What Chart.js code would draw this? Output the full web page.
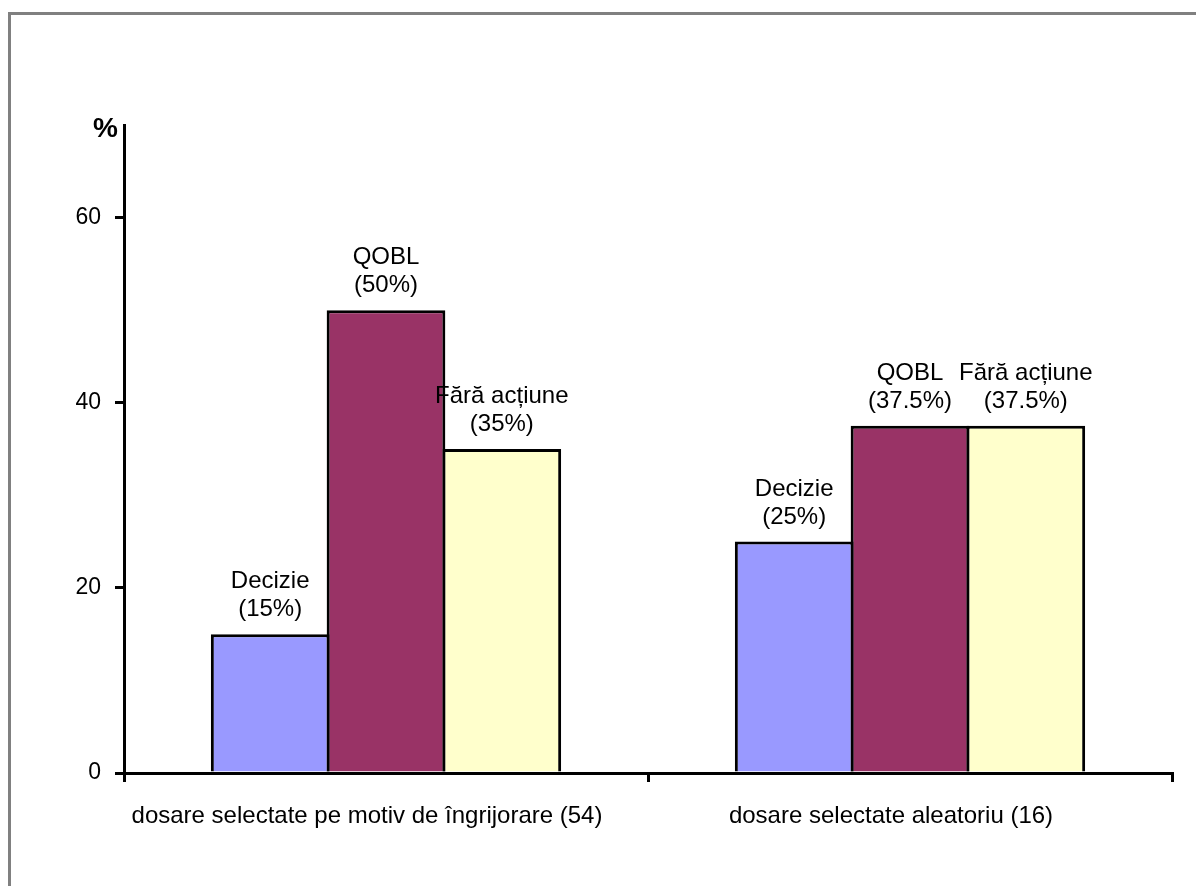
<!DOCTYPE html>
<html>
<head>
<meta charset="utf-8">
<script src="https://cdn.jsdelivr.net/npm/chart.js@4"></script>
<style>
  html, body { margin: 0; padding: 0; background: #ffffff; }
  #wrap { position: relative; width: 1196px; height: 886px; overflow: hidden; }
  #frame {
    position: absolute; left: 8px; top: 12px; width: 1300px; height: 1000px;
    border-left: 3px solid #808080; border-top: 3px solid #808080;
  }
  #chart { position: absolute; left: 0; top: 0; }
</style>
</head>
<body>
<div id="wrap">
  <div id="frame"></div>
  <canvas id="chart" width="1196" height="886"></canvas>
</div>
<script>
"use strict"

const categories = ["dosare selectate pe motiv de îngrijorare (54)", "dosare selectate aleatoriu (16)"];
const seriesNames = ["Decizie", "QOBL", "Fără acțiune"];
const decizie = [15, 25];
const qobl = [50, 37.5];
const faraActiune = [35, 37.5];
const yTicks = [0, 20, 40, 60];
const yMax = 70;
const seriesColors = ["#9999FF", "#993366", "#FFFFCC"];

const FONT = "'Liberation Sans', Arial, sans-serif";

const barLabels = {
    id: "barLabels",
    afterDatasetsDraw(chart) {
        const ctx = chart.ctx;
        ctx.save();
        ctx.fillStyle = "#000000";
        ctx.font = "24px " + FONT;
        ctx.textAlign = "center";
        ctx.textBaseline = "alphabetic";
        chart.data.datasets.forEach((ds, i) => {
            chart.getDatasetMeta(i).data.forEach((bar, j) => {
                ctx.fillText(ds.label, bar.x, bar.y - 46);
                ctx.fillText("(" + ds.data[j] + "%)", bar.x, bar.y - 18);
            });
        });
        ctx.restore();
    },
    afterDraw(chart) {
        const ctx = chart.ctx;
        const area = chart.chartArea;
        ctx.save();
        ctx.fillStyle = "#000000";
        ctx.font = "bold 28px " + FONT;
        ctx.textAlign = "right";
        ctx.textBaseline = "alphabetic";
        ctx.fillText("%", area.left - 6, area.top + 12);
        ctx.restore();
    }
};

const datasets = [decizie, qobl, faraActiune].map((values, i) => ({
    label: seriesNames[i],
    data: values,
    backgroundColor: seriesColors[i],
    borderColor: "#000000",
    borderWidth: 3,
    categoryPercentage: 0.663,
    barPercentage: 1.025
}));

const chart = new Chart(
    document.querySelector("#chart"),
    {
        type: "bar",
        data: {
            labels: categories,
            datasets: datasets
        },
        options: {
            responsive: false,
            devicePixelRatio: 1,
            animation: false,
            layout: {
                padding: { top: 125, right: 24, left: 0, bottom: 0 }
            },
            plugins: {
                legend: { display: false },
                tooltip: { enabled: false }
            },
            scales: {
                x: {
                    z: 1,
                    offset: true,
                    afterFit(scale) { scale.height = 113; },
                    grid: {
                        offset: true,
                        drawOnChartArea: false,
                        color: "#000000",
                        lineWidth: 3,
                        tickLength: 9
                    },
                    border: { display: true, color: "#000000", width: 3 },
                    ticks: {
                        color: "#000000",
                        font: { family: FONT, size: 24 },
                        padding: 20,
                        labelOffset: -19,
                        maxRotation: 0,
                        autoSkip: false
                    }
                },
                y: {
                    z: 1,
                    min: 0,
                    max: yMax,
                    afterFit(scale) { scale.width = 124; },
                    afterBuildTicks(scale) {
                        scale.ticks = yTicks.map(v => ({ value: v }));
                    },
                    grid: {
                        drawOnChartArea: false,
                        color: "#000000",
                        lineWidth: 3,
                        tickLength: 9
                    },
                    border: { display: true, color: "#000000", width: 3 },
                    ticks: {
                        color: "#000000",
                        font: { family: FONT, size: 23 },
                        padding: 14
                    }
                }
            }
        },
        plugins: [barLabels]
    }
);
</script>
</body>
</html>
